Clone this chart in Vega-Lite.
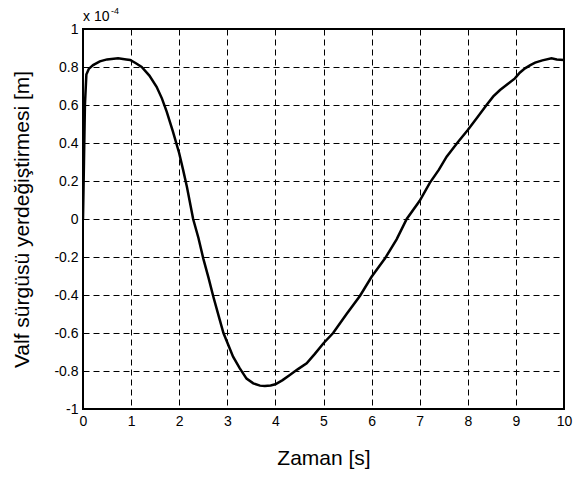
{
  "$schema": "https://vega.github.io/schema/vega-lite/v6.json",
  "width": 481,
  "height": 380,
  "autosize": {"type": "none"},
  "padding": {"left": 83, "top": 29, "right": 17, "bottom": 68},
  "background": "white",
  "config": {
    "view": {"stroke": "black", "strokeWidth": 2},
    "axis": {
      "domain": false,
      "ticks": false,
      "grid": true,
      "gridColor": "black",
      "gridDash": [6, 4],
      "gridWidth": 1,
      "gridOpacity": 1,
      "labelFont": "Liberation Sans",
      "labelFontSize": 14,
      "labelColor": "black",
      "labelPadding": 5,
      "labelOverlap": false,
      "labelFlush": false,
      "titleFont": "Liberation Sans",
      "titleFontSize": 21,
      "titleFontWeight": "normal",
      "titleColor": "black"
    }
  },
  "encoding": {
    "x": {
      "field": "t",
      "type": "quantitative",
      "scale": {"domain": [0, 10], "nice": false, "zero": false},
      "axis": {
        "values": [0, 1, 2, 3, 4, 5, 6, 7, 8, 9, 10],
        "labelExpr": "'' + datum.value",
        "title": "Zaman [s]",
        "titleY": 49,
        "titleBaseline": "middle"
      }
    },
    "y": {
      "field": "v",
      "type": "quantitative",
      "scale": {"domain": [-1, 1], "nice": false, "zero": false},
      "axis": {
        "values": [-1, -0.8, -0.6, -0.4, -0.2, 0, 0.2, 0.4, 0.6, 0.8, 1],
        "labelExpr": "'' + datum.value",
        "title": "Valf sürgüsü  yerdeğiştirmesi [m]",
        "titleX": -61,
        "titleY": 190,
        "titleBaseline": "middle",
        "titleAlign": "center"
      }
    }
  },
  "layer": [
    {
      "data": {
        "values": [
          {"t": 0, "v": 0},
          {"t": 0.02, "v": 0.3},
          {"t": 0.04, "v": 0.6},
          {"t": 0.07, "v": 0.76},
          {"t": 0.12, "v": 0.79},
          {"t": 0.21, "v": 0.81},
          {"t": 0.35, "v": 0.83},
          {"t": 0.5, "v": 0.84},
          {"t": 0.73, "v": 0.846},
          {"t": 0.9, "v": 0.84},
          {"t": 0.98, "v": 0.837},
          {"t": 1.1, "v": 0.82},
          {"t": 1.22, "v": 0.8},
          {"t": 1.38, "v": 0.755},
          {"t": 1.53, "v": 0.696},
          {"t": 1.64, "v": 0.635},
          {"t": 1.74, "v": 0.565},
          {"t": 1.87, "v": 0.46},
          {"t": 2.0, "v": 0.346},
          {"t": 2.08, "v": 0.26},
          {"t": 2.16, "v": 0.17},
          {"t": 2.29, "v": 0.0},
          {"t": 2.4, "v": -0.1},
          {"t": 2.5, "v": -0.207},
          {"t": 2.61, "v": -0.31},
          {"t": 2.71, "v": -0.409},
          {"t": 2.82, "v": -0.51},
          {"t": 2.92, "v": -0.6},
          {"t": 3.0, "v": -0.65},
          {"t": 3.12, "v": -0.725},
          {"t": 3.26, "v": -0.786},
          {"t": 3.4, "v": -0.84},
          {"t": 3.54, "v": -0.865},
          {"t": 3.68, "v": -0.877},
          {"t": 3.78, "v": -0.879},
          {"t": 3.9, "v": -0.876},
          {"t": 4.0, "v": -0.87},
          {"t": 4.15, "v": -0.848},
          {"t": 4.3, "v": -0.821},
          {"t": 4.47, "v": -0.79},
          {"t": 4.65, "v": -0.76},
          {"t": 4.82, "v": -0.71},
          {"t": 5.0, "v": -0.654},
          {"t": 5.2, "v": -0.6},
          {"t": 5.48, "v": -0.5},
          {"t": 5.76, "v": -0.404},
          {"t": 6.0, "v": -0.304},
          {"t": 6.28, "v": -0.207},
          {"t": 6.52, "v": -0.107},
          {"t": 6.73, "v": 0.0},
          {"t": 7.0, "v": 0.096},
          {"t": 7.21, "v": 0.19},
          {"t": 7.4, "v": 0.26},
          {"t": 7.56, "v": 0.328},
          {"t": 7.8, "v": 0.407},
          {"t": 8.0, "v": 0.468},
          {"t": 8.2, "v": 0.535},
          {"t": 8.39, "v": 0.6},
          {"t": 8.53, "v": 0.645},
          {"t": 8.67, "v": 0.679},
          {"t": 8.83, "v": 0.71},
          {"t": 8.98, "v": 0.74},
          {"t": 9.08, "v": 0.77},
          {"t": 9.19, "v": 0.793},
          {"t": 9.3, "v": 0.81},
          {"t": 9.4, "v": 0.823},
          {"t": 9.55, "v": 0.835},
          {"t": 9.74, "v": 0.846},
          {"t": 9.85, "v": 0.84},
          {"t": 10.0, "v": 0.837}
        ]
      },
      "mark": {"type": "line", "color": "black", "strokeWidth": 2.5, "clip": true}
    },
    {
      "data": {"values": [{"t": 0, "v": 1, "label": "x 10", "exp": "-4"}]},
      "layer": [
        {
          "mark": {"type": "text", "align": "left", "baseline": "alphabetic", "dy": -8, "fontSize": 14, "font": "Liberation Sans", "color": "black"},
          "encoding": {"text": {"field": "label"}}
        },
        {
          "mark": {"type": "text", "align": "left", "baseline": "alphabetic", "dx": 28, "dy": -15, "fontSize": 9, "font": "Liberation Sans", "color": "black"},
          "encoding": {"text": {"field": "exp"}}
        }
      ]
    }
  ]
}
